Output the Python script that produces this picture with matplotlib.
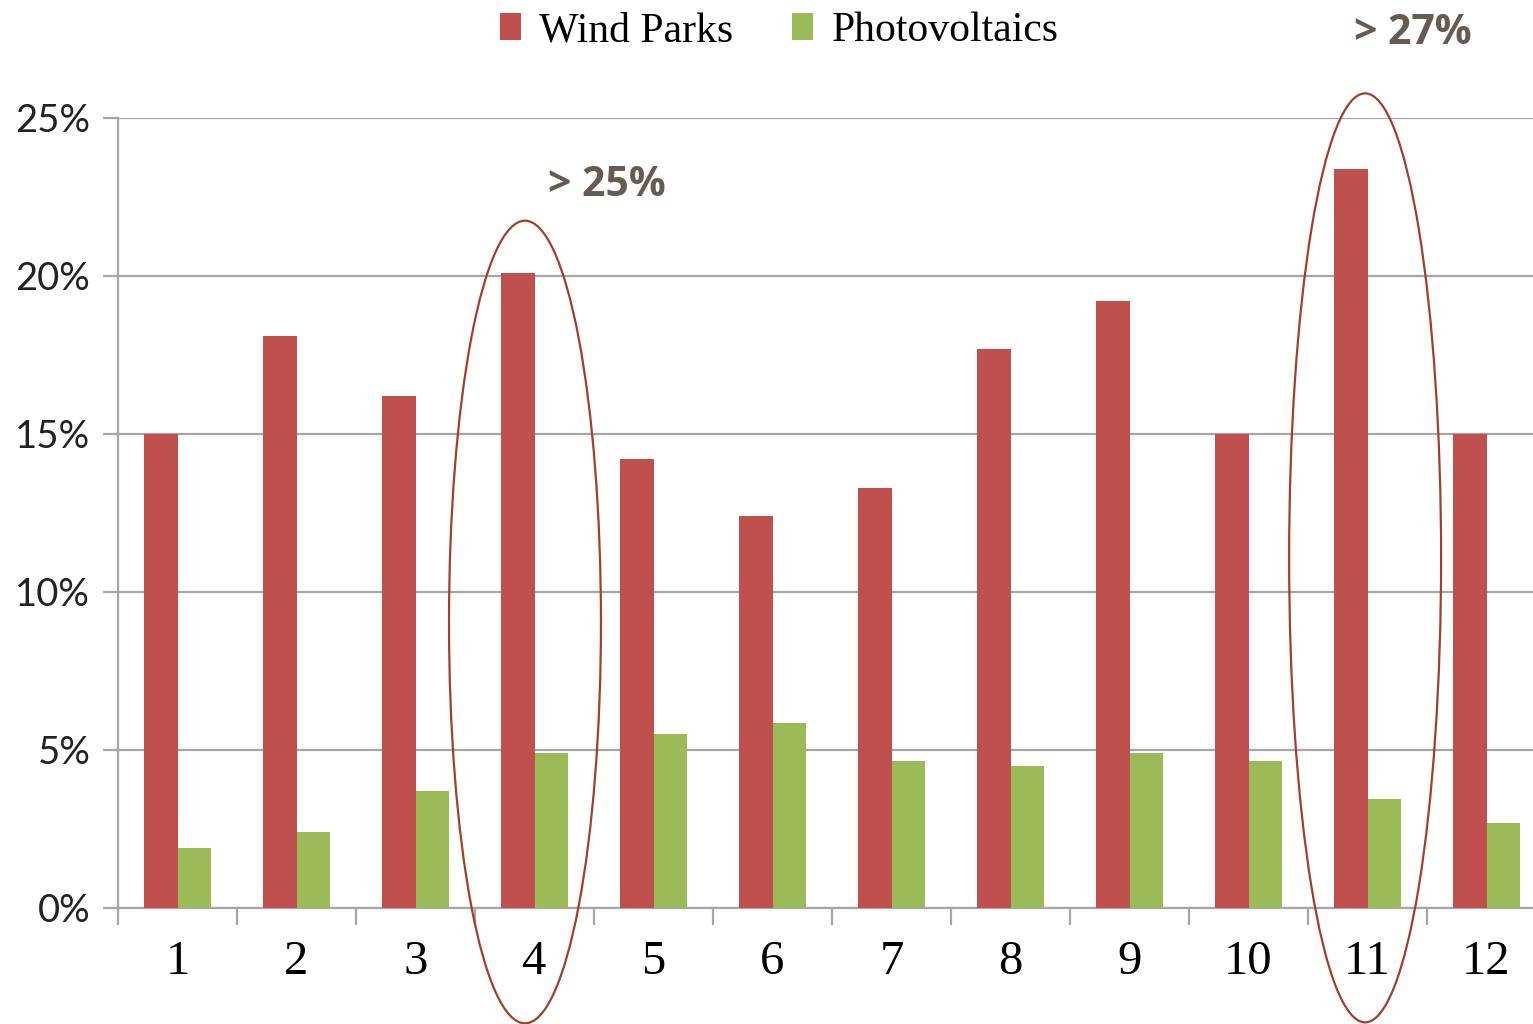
import matplotlib
matplotlib.use("Agg")
import matplotlib.pyplot as plt
from matplotlib.patches import Ellipse
import numpy as np

RED = "#C0504D"; GREEN = "#9BBB59"; GRID = "#A6A6A6"; NOTE = "#675A52"; RING = "#A0402A"

months = ["1", "2", "3", "4", "5", "6", "7", "8", "9", "10", "11", "12"]
wind = [15.0, 18.1, 16.2, 20.1, 14.2, 12.4, 13.3, 17.7, 19.2, 15.0, 23.4, 15.0]
pv = [1.9, 2.4, 3.7, 4.9, 5.5, 5.85, 4.65, 4.5, 4.9, 4.65, 3.45, 2.7]
yticks = [0, 5, 10, 15, 20, 25]

fig = plt.figure(figsize=(15.33, 10.24), dpi=100)
ax = fig.add_axes([118 / 1533, 1 - 908 / 1024, 1428 / 1533, 790 / 1024])

x = np.arange(len(months))
w = 0.285
b1 = ax.bar(x - w / 2, wind, w, color=RED, zorder=3, label="Wind Parks")
b2 = ax.bar(x + w / 2, pv, w, color=GREEN, zorder=3, label="Photovoltaics")

ax.set_xlim(-0.5, 11.5)
ax.set_ylim(0, 25)
ax.set_yticks(yticks)
ax.set_yticklabels([f"{v}%" for v in yticks], family="Lato", fontsize=27.5, color="#222222")
ax.yaxis.grid(True, color=GRID, lw=1.6, zorder=0)
ax.tick_params(axis="y", length=11, width=1.6, color=GRID, pad=9)

# category labels in the middle, tick marks on the boundaries
ax.set_xticks(x)
ax.set_xticklabels(months, family="Liberation Serif", fontsize=35)
ax.tick_params(axis="x", which="major", length=0, pad=23)
ax.set_xticks(np.arange(-0.5, 12, 1), minor=True)
ax.tick_params(axis="x", which="minor", length=12, width=1.6, color=GRID)

for s in ["top", "right"]:
    ax.spines[s].set_visible(False)
for s in ["left", "bottom"]:
    ax.spines[s].set_color(GRID); ax.spines[s].set_linewidth(1.6)

# highlight rings
ax.add_patch(Ellipse((2.92, 9.05), 1.277, 25.4, fill=False, ec=RING, lw=1.6, clip_on=False, zorder=5))
ax.add_patch(Ellipse((9.98, 11.08), 1.277, 29.4, fill=False, ec=RING, lw=1.6, clip_on=False, zorder=5))

ax.text(607 / 1533, 1 - 185 / 1024, "> 25%", transform=fig.transFigure, ha="center", va="center",
        family="Open Sans", fontweight="bold", fontsize=29.5, color=NOTE)
ax.text(1413 / 1533, 1 - 33 / 1024, "> 27%", transform=fig.transFigure, ha="center", va="center",
        family="Open Sans", fontweight="bold", fontsize=29.5, color=NOTE)

fig.legend(handles=[b1, b2], loc="center", bbox_to_anchor=(779 / 1533, 1 - 31 / 1024), ncol=2,
           frameon=False, prop={"family": "Liberation Serif", "size": 30},
           handlelength=0.5, handleheight=0.6, handletextpad=0.45, columnspacing=1.4)

fig.savefig("out.png", dpi=100, facecolor="white")
